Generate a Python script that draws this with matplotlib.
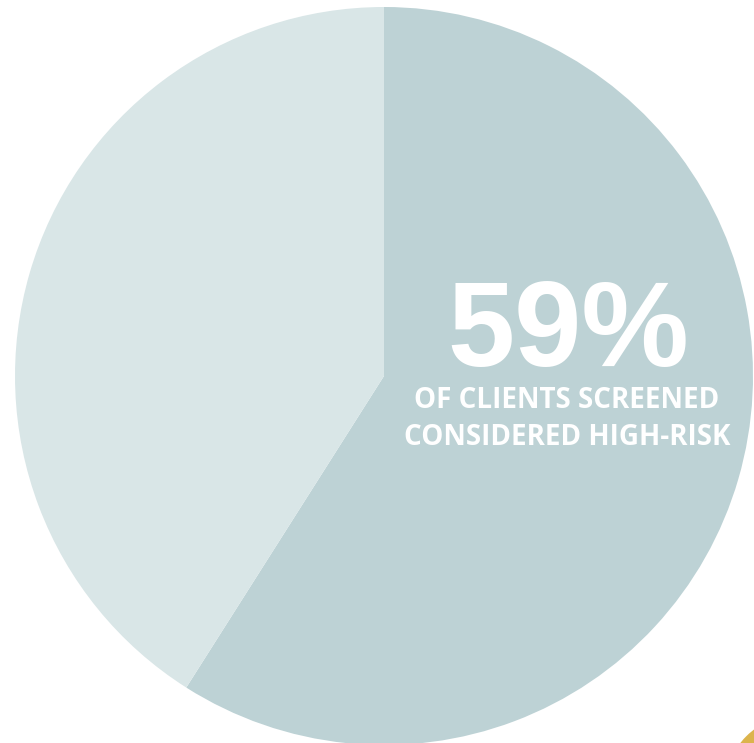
import matplotlib.pyplot as plt
from matplotlib import font_manager as fm
from matplotlib.patches import Circle

# share of clients screened
shares = [59, 41]
slice_colors = ['#bdd2d5', '#d9e6e7']
headline = '59%'
subtitle = ['OF CLIENTS SCREENED', 'CONSIDERED HIGH-RISK']

# pick the regular-width Open Sans Bold file, not the condensed cut
bold_path = [f.fname for f in fm.fontManager.ttflist
             if f.fname.endswith('OpenSans-Bold.ttf')]
sub_font = fm.FontProperties(fname=bold_path[0], size=20) if bold_path else \
    fm.FontProperties(family='Open Sans', weight='bold', size=20)

W, H = 754, 743
fig = plt.figure(figsize=(W / 100, H / 100), dpi=100)
ax = fig.add_axes([0, 0, 1, 1])

# pixel-like coordinates, y pointing down
ax.pie(shares, colors=slice_colors, center=(384, 376), radius=369,
       startangle=-90, counterclock=True,
       wedgeprops=dict(linewidth=0))
ax.set_xlim(0, W)
ax.set_ylim(H, 0)
ax.set_aspect('equal')
ax.axis('off')

# gold edge peeking in at the corner
ax.add_patch(Circle((800, 790), 76, color='#dcb44c', lw=0, zorder=0))

ax.text(568, 366, headline, ha='center', va='baseline', color='white',
        fontsize=87, fontweight='bold', family='Liberation Sans')
ax.text(567, 408, subtitle[0], ha='center', va='baseline', color='white',
        fontproperties=sub_font)
ax.text(567, 445, subtitle[1], ha='center', va='baseline', color='white',
        fontproperties=sub_font)

plt.savefig('out.png', dpi=100)
